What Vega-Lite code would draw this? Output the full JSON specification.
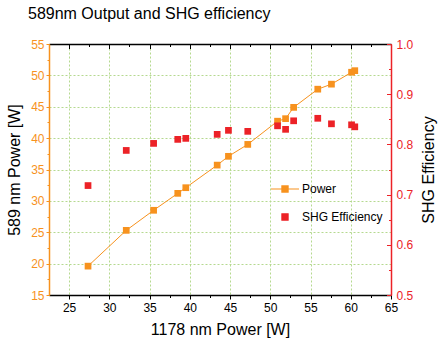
{
  "$schema": "https://vega.github.io/schema/vega-lite/v6.json",
  "width": 342,
  "height": 251,
  "autosize": {"type": "none"},
  "padding": {"left": 49, "top": 44, "right": 55, "bottom": 50},
  "background": "white",
  "title": {"text": "589nm Output and SHG efficiency", "anchor": "start", "frame": "group", "dx": -21, "offset": 3, "baseline": "alphabetic", "fontSize": 16, "fontWeight": "normal", "font": "Liberation Sans", "color": "black"},
  "datasets": {
    "power": [
      {"x": 27.35, "y": 19.6}, {"x": 32.1, "y": 25.3}, {"x": 35.5, "y": 28.5}, {"x": 38.5, "y": 31.2}, {"x": 39.5, "y": 32.1},
      {"x": 43.4, "y": 35.7}, {"x": 44.8, "y": 37.1}, {"x": 47.2, "y": 39.0}, {"x": 50.9, "y": 42.7}, {"x": 51.9, "y": 43.1},
      {"x": 52.9, "y": 44.9}, {"x": 55.9, "y": 47.8}, {"x": 57.6, "y": 48.6}, {"x": 60.1, "y": 50.5}, {"x": 60.5, "y": 50.75}
    ],
    "eff": [
      {"x": 27.35, "y": 0.718}, {"x": 32.1, "y": 0.788}, {"x": 35.5, "y": 0.802}, {"x": 38.5, "y": 0.81}, {"x": 39.5, "y": 0.812},
      {"x": 43.4, "y": 0.82}, {"x": 44.8, "y": 0.828}, {"x": 47.2, "y": 0.826}, {"x": 50.9, "y": 0.837}, {"x": 51.9, "y": 0.83},
      {"x": 52.9, "y": 0.847}, {"x": 55.9, "y": 0.852}, {"x": 57.6, "y": 0.841}, {"x": 60.1, "y": 0.839}, {"x": 60.5, "y": 0.835}
    ]
  },
  "layer": [
    {
      "data": {"name": "power"},
      "mark": {"type": "line", "strokeWidth": 1, "point": {"shape": "square", "filled": true, "size": 45, "opacity": 1}},
      "encoding": {
        "x": {"field": "x", "type": "quantitative", "scale": {"domain": [22.5, 65], "nice": false, "zero": false},
          "axis": {"orient": "bottom", "values": [25, 30, 35, 40, 45, 50, 55, 60, 65], "title": "1178 nm Power [W]", "tickSize": 4, "labelPadding": 3, "titlePadding": 8, "labelFlush": false, "grid": true, "gridColor": "#b5d98f", "gridDash": [2, 2], "gridWidth": 1}},
        "y": {"field": "y", "type": "quantitative", "scale": {"domain": [15, 55], "nice": false, "zero": false},
          "axis": {"orient": "left", "values": [15, 20, 25, 30, 35, 40, 45, 50, 55], "title": "589 nm Power [W]", "tickSize": 3, "labelPadding": 2, "titlePadding": 8, "labelFlush": false, "labelColor": "#F7921E", "domainColor": "#F7921E", "tickColor": "#F7921E", "grid": true, "gridColor": "#b5d98f", "gridDash": [2, 2], "gridWidth": 1}},
        "color": {"datum": "Power", "type": "nominal",
          "scale": {"domain": ["Power", "SHG Efficiency"], "range": ["#F7921E", "#EC2227"]},
          "legend": {"orient": "none", "legendX": 221, "legendY": 130, "title": null, "padding": 0, "symbolSize": 784, "labelFontSize": 12, "labelFont": "Liberation Sans", "labelColor": "black", "labelOffset": 2, "rowPadding": 7,
            "encoding": {"symbols": {
              "shape": {"value": {"expr": "datum.value === 'Power' ? 'M-1,0H-0.25M0.25,0H1M-0.22,-0.22H0.22V0.22H-0.22Z' : 'M-0.22,-0.22H0.22V0.22H-0.22Z'"}},
              "fill": {"value": {"expr": "datum.value === 'Power' ? '#F7921E' : '#EC2227'"}},
              "stroke": {"value": {"expr": "datum.value === 'Power' ? '#F7921E' : '#EC2227'"}},
              "strokeWidth": {"value": 1.2},
              "opacity": {"value": 1}
            }}}}
      }
    },
    {
      "data": {"name": "eff"},
      "mark": {"type": "square", "size": 45, "opacity": 1},
      "encoding": {
        "x": {"field": "x", "type": "quantitative", "scale": {"domain": [22.5, 65], "nice": false, "zero": false},
          "axis": {"orient": "top", "values": [25, 30, 35, 40, 45, 50, 55, 60], "title": null, "labels": false, "tickSize": -4.5, "grid": false}},
        "y": {"field": "y", "type": "quantitative", "scale": {"domain": [0.5, 1.0], "nice": false, "zero": false},
          "axis": {"orient": "right", "values": [0.5, 0.6, 0.7, 0.8, 0.9, 1.0], "format": ".1f", "title": "SHG Efficiency", "titleAngle": -90, "titleBaseline": "top", "tickSize": -4.5, "labelPadding": 9.5, "titlePadding": 8, "labelFlush": false, "labelColor": "#EC2227", "domainColor": "#EC2227", "tickColor": "#EC2227", "grid": false}},
        "color": {"datum": "SHG Efficiency", "type": "nominal"}
      }
    },
    {
      "data": {"name": "power"},
      "mark": {"type": "point", "opacity": 0},
      "encoding": {
        "x": {"field": "x", "type": "quantitative", "scale": {"domain": [22.5, 65], "nice": false, "zero": false},
          "axis": {"orient": "bottom", "values": [27.5, 32.5, 37.5, 42.5, 47.5, 52.5, 57.5, 62.5], "title": null, "labels": false, "domain": false, "tickSize": 2.5, "grid": false}},
        "y": {"field": "y", "type": "quantitative", "scale": {"domain": [15, 55], "nice": false, "zero": false},
          "axis": {"orient": "left", "values": [17.5, 22.5, 27.5, 32.5, 37.5, 42.5, 47.5, 52.5], "title": null, "labels": false, "domain": false, "tickSize": 2, "tickColor": "#F7921E", "grid": false}}
      }
    },
    {
      "data": {"name": "eff"},
      "mark": {"type": "point", "opacity": 0},
      "encoding": {
        "x": {"field": "x", "type": "quantitative", "scale": {"domain": [22.5, 65], "nice": false, "zero": false},
          "axis": {"orient": "top", "values": [27.5, 32.5, 37.5, 42.5, 47.5, 52.5, 57.5, 62.5], "title": null, "labels": false, "domain": false, "tickSize": -2.5, "grid": false}},
        "y": {"field": "y", "type": "quantitative", "scale": {"domain": [0.5, 1.0], "nice": false, "zero": false},
          "axis": {"orient": "right", "values": [0.55, 0.65, 0.75, 0.85, 0.95], "title": null, "labels": false, "domain": false, "tickSize": -2.5, "tickColor": "#EC2227", "grid": false}}
      }
    }
  ],
  "resolve": {"scale": {"y": "independent"}, "axis": {"x": "independent", "y": "independent"}},
  "config": {
    "view": {"stroke": null},
    "axis": {"labelFont": "Liberation Sans", "titleFont": "Liberation Sans", "labelFontSize": 12, "titleFontSize": 16, "titleFontWeight": "normal", "labelColor": "black", "titleColor": "black", "domainColor": "black", "tickColor": "black", "domainWidth": 1.5, "tickWidth": 1}
  }
}
